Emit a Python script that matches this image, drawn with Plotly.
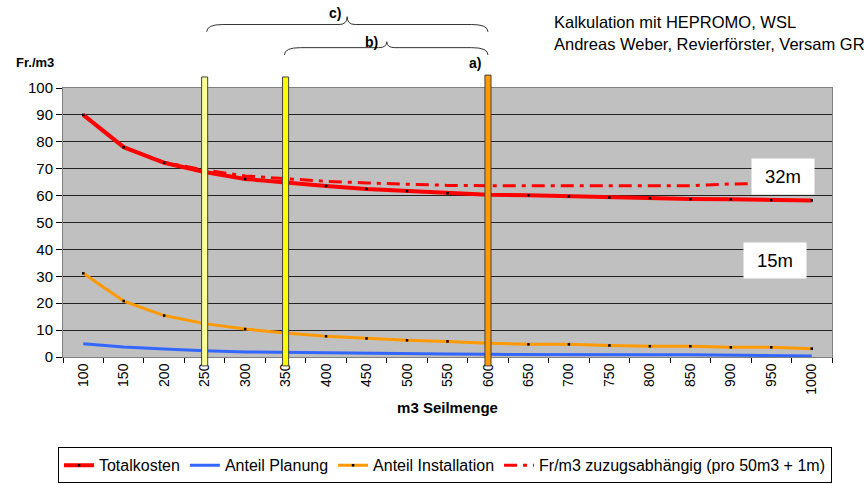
import plotly.graph_objects as go

categories = ["100", "150", "200", "250", "300", "350", "400", "450", "500", "550",
              "600", "650", "700", "750", "800", "850", "900", "950", "1000"]
totalkosten = [90, 78, 72.2, 68.8, 66.2, 64.8, 63.6, 62.5, 61.7, 60.9,
               60.3, 60.1, 59.7, 59.3, 59.0, 58.7, 58.6, 58.3, 58.2]
anteil_planung = [4.9, 3.7, 3.0, 2.3, 1.9, 1.7, 1.5, 1.4, 1.3, 1.1,
                  1.0, 0.9, 0.9, 0.8, 0.8, 0.8, 0.6, 0.5, 0.4]
anteil_installation = [31.1, 20.8, 15.4, 12.4, 10.4, 8.9, 7.7, 6.9, 6.2, 5.8,
                       5.1, 4.7, 4.7, 4.3, 4.0, 4.0, 3.6, 3.6, 3.1]
zuzug = [90, 78, 72.3, 69.5, 67.3, 66.2, 65.3, 64.7, 64.2, 63.8,
         63.7, 63.7, 63.7, 63.7, 63.7, 63.7, 64.3, 64.5, 64.7]
y_ticks = list(range(0, 101, 10))

# marker bars: (category, fill colour, top)
bars = [("250", "#FFFF99", 1.041), ("350", "#FFFF00", 1.041), ("600", "#FF9900", 1.048)]

FONT = "Liberation Sans, Arial, sans-serif"

fig = go.Figure()
fig.add_trace(go.Scatter(x=categories, y=zuzug, mode="lines", name="Fr/m3 zuzugsabhängig (pro 50m3 + 1m)",
                         line=dict(color="#FF0000", width=3, dash="13px,6px,4px,6px"), legendrank=4))
fig.add_trace(go.Scatter(x=categories, y=totalkosten, mode="lines+markers", name="Totalkosten",
                         line=dict(color="#FF0000", width=4),
                         marker=dict(symbol="square", size=2.5, color="black"), legendrank=1))
fig.add_trace(go.Scatter(x=categories, y=anteil_planung, mode="lines", name="Anteil Planung",
                         line=dict(color="#3366FF", width=3), legendrank=2))
fig.add_trace(go.Scatter(x=categories, y=anteil_installation, mode="lines+markers", name="Anteil Installation",
                         line=dict(color="#FF9900", width=3),
                         marker=dict(symbol="square", size=2.5, color="black"), legendrank=3))

shapes = []
for cat, col, top in bars:
    i = categories.index(cat)
    shapes.append(dict(type="rect", xref="x", yref="paper", x0=i - 0.075, x1=i + 0.075,
                       y0=-0.033, y1=top, fillcolor=col, line=dict(color="#404040", width=1),
                       layer="above"))


def brace(i0, i1, tip, yb, yh, yt, r=0.4, rt=0.2):
    return (f"M {i0},{yb} Q {i0},{yh} {i0 + r},{yh} L {tip - rt},{yh} "
            f"Q {tip},{yh} {tip},{yt} Q {tip},{yh} {tip + rt},{yh} "
            f"L {i1 - r},{yh} Q {i1},{yh} {i1},{yb}")


i250, i350, i600 = categories.index("250"), categories.index("350"), categories.index("600")
shapes.append(dict(type="path", xref="x", yref="paper",
                   path=brace(i250 + 0.05, i600, 6.52, 1.209, 1.236, 1.265),
                   line=dict(color="#333333", width=1)))
shapes.append(dict(type="path", xref="x", yref="paper",
                   path=brace(i350 - 0.03, i600, 7.5, 1.123, 1.150, 1.172),
                   line=dict(color="#333333", width=1)))

annotations = [
    dict(text="<b>c)</b>", x=6.23, y=1.278, xref="x", yref="paper", showarrow=False,
         yanchor="middle", font=dict(size=14, family=FONT, color="black")),
    dict(text="<b>b)</b>", x=7.13, y=1.172, xref="x", yref="paper", showarrow=False,
         yanchor="middle", font=dict(size=14, family=FONT, color="black")),
    dict(text="<b>a)</b>", x=9.67, y=1.092, xref="x", yref="paper", showarrow=False,
         yanchor="middle", font=dict(size=14, family=FONT, color="black")),
    dict(text="<b>Fr./m3</b>", x=-0.0643, y=1.0955, xref="paper", yref="paper", xanchor="left",
         yanchor="middle", showarrow=False, font=dict(size=13, family=FONT, color="black")),
    dict(text="Kalkulation mit HEPROMO, WSL", x=0.636, y=1.2454, xref="paper", yref="paper",
         xanchor="left", yanchor="middle", showarrow=False,
         font=dict(size=16.5, family=FONT, color="black")),
    dict(text="Andreas Weber, Revierförster, Versam GR", x=0.636, y=1.1636, xref="paper", yref="paper",
         xanchor="left", yanchor="middle", showarrow=False,
         font=dict(size=16.5, family=FONT, color="black")),
    dict(text="32m", x=17.3, y=67.2, xref="x", yref="y", showarrow=False, bgcolor="white",
         width=60, height=33, font=dict(size=18.5, family=FONT, color="black")),
    dict(text="15m", x=17.1, y=36, xref="x", yref="y", showarrow=False, bgcolor="white",
         width=60, height=33, font=dict(size=18.5, family=FONT, color="black")),
]

fig.update_layout(
    width=864, height=484,
    margin=dict(l=62.5, r=32, t=88, b=127, autoexpand=False),
    paper_bgcolor="white", plot_bgcolor="#C0C0C0",
    font=dict(family=FONT, size=15, color="black"),
    showlegend=True,
    legend=dict(orientation="h", xref="container", yref="container",
                x=0.515, xanchor="center", y=0.0758, yanchor="top",
                bordercolor="black", borderwidth=1, bgcolor="white",
                font=dict(size=16, family=FONT), traceorder="normal"),
    shapes=shapes, annotations=annotations,
    xaxis=dict(type="category", categoryorder="array", categoryarray=categories,
               tickangle=-90, tickson="boundaries", ticks="outside", ticklen=5, tickcolor="black",
               showgrid=False, showline=True, linecolor="#808080", mirror=True, automargin=False,
               title=dict(text="<b>m3 Seilmenge</b>", font=dict(size=15, family=FONT), standoff=8),
               tickfont=dict(size=14, family=FONT), range=[-0.5, 18.5]),
    yaxis=dict(range=[0, 100], tickvals=y_ticks, ticks="outside", ticklen=6, tickcolor="black",
               showgrid=True, gridcolor="#222222", gridwidth=1, zeroline=False,
               showline=True, linecolor="#808080", mirror=True, automargin=False,
               tickfont=dict(size=15, family=FONT)),
)

fig.write_html("out.html", config={"displayModeBar": False},
               post_script="document.body.style.margin='0';document.body.style.overflow='hidden';")
